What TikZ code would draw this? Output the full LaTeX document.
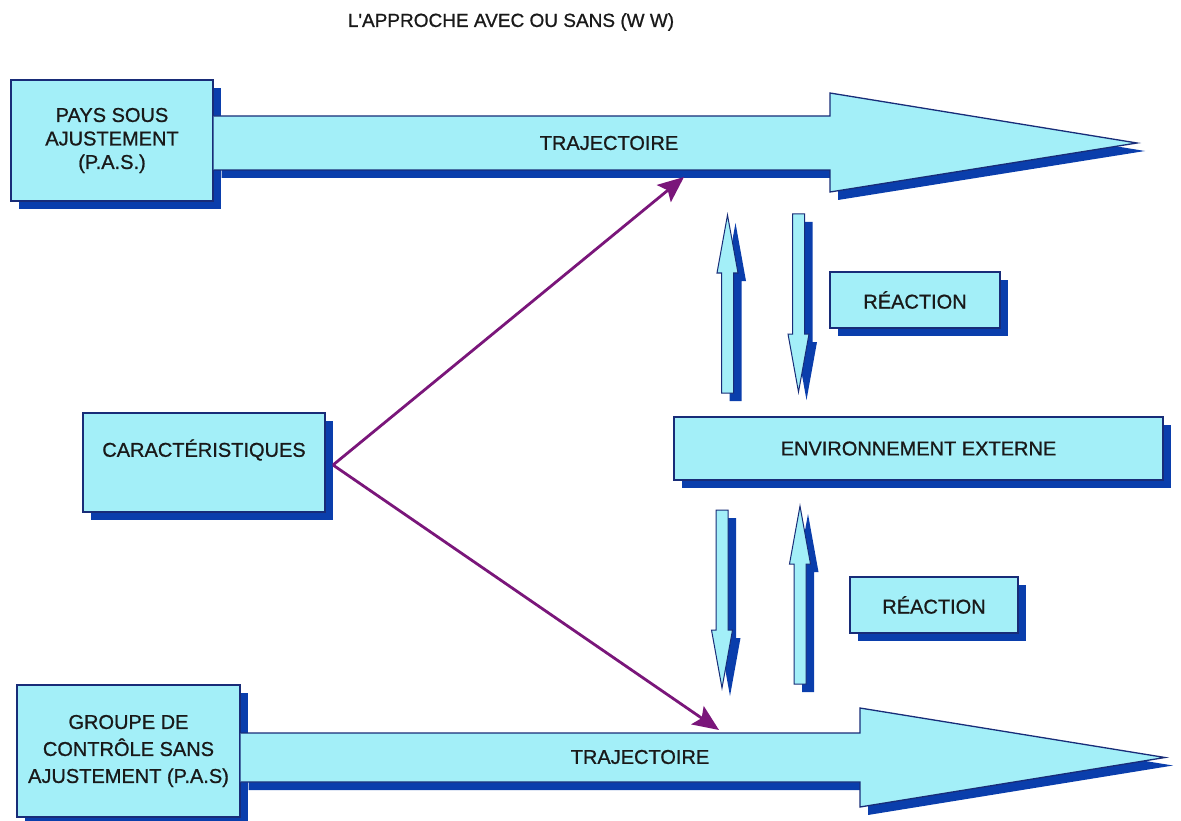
\documentclass[tikz,border=0pt]{standalone}
\usepackage{fontspec}
\setmainfont{Liberation Sans}
\newfontfamily\labelfont{Liberation Sans}[UprightFont=*, FakeBold=0.9]
\usetikzlibrary{shadows,arrows.meta}
\definecolor{panelfill}{RGB}{163,239,248}
\definecolor{panelline}{RGB}{24,44,120}
\definecolor{panelshadow}{RGB}{10,62,172}
\definecolor{linkpurple}{RGB}{122,22,122}

\begin{document}
\begin{tikzpicture}[x=1pt,y=-1pt,
  txt/.style={font=\labelfont\fontsize{20}{23.5}\selectfont, text=black!90, inner sep=0pt, align=center},
  panel/.style={draw=panelline, line width=1.3pt, fill=panelfill,
    drop shadow={shadow xshift=8pt, shadow yshift=-8pt, fill=panelshadow, opacity=1},
    txt},
  bodyfill/.style={fill=panelfill},
  bodyline/.style={draw=panelline, line width=1.3pt, line join=miter},
  bodyshadow/.style={fill=panelshadow},
  link/.style={draw=linkpurple, line width=2.8pt,
    -{Stealth[length=26pt,width=22pt,inset=5pt]}},
  pics/uparrow/.style={code={
    \fill[bodyshadow, shift={(8,8)}] (0,0) -- (10.5,58) -- (6,58) -- (6,178)
      -- (-6,178) -- (-6,58) -- (-10.5,58) -- cycle;
    \path[bodyfill, bodyline, line width=1pt] (0,0) -- (10.5,58) -- (6,58) -- (6,178)
      -- (-6,178) -- (-6,58) -- (-10.5,58) -- cycle;
  }},
  pics/downarrow/.style={code={
    \fill[bodyshadow, shift={(8,8)}] (0,0) -- (10.5,-58) -- (6,-58) -- (6,-178)
      -- (-6,-178) -- (-6,-58) -- (-10.5,-58) -- cycle;
    \path[bodyfill, bodyline, line width=1pt] (0,0) -- (10.5,-58) -- (6,-58) -- (6,-178)
      -- (-6,-178) -- (-6,-58) -- (-10.5,-58) -- cycle;
  }}
]
\useasboundingbox (0,0) rectangle (1181,821);

% title
\node[txt, font=\labelfont\fontsize{19}{22}\selectfont] (title) at (511,22) {L'APPROCHE AVEC OU SANS (W W)};

% left-hand boxes
\node[panel, minimum width=202pt, minimum height=121pt] (pas) at (112,140.5)
  {PAYS SOUS\\AJUSTEMENT\\(P.A.S.)};
\node[panel, minimum width=223pt, minimum height=132pt,
  font=\labelfont\fontsize{20}{27}\selectfont] (ctrl) at (128.5,751)
  {GROUPE DE\\CONTRÔLE SANS\\AJUSTEMENT (P.A.S)};
\node[panel, minimum width=242pt, minimum height=99pt] (car) at (204,462.5) {};
\node[txt] (cartext) at (204,450) {CARACTÉRISTIQUES};

% upper trajectory arrow
\fill[bodyshadow, shift={(8,8)}] (213.6,116) -- (830,116) -- (830,93) -- (1137,143)
  -- (830,192) -- (830,170) -- (213.6,170) -- cycle;
\fill[bodyfill] (213.6,116) -- (830,116) -- (830,93) -- (1137,143)
  -- (830,192) -- (830,170) -- (213.6,170) -- cycle;
\draw[bodyline] (213.6,116) -- (830,116) -- (830,93) -- (1137,143)
  -- (830,192) -- (830,170) -- (213.6,170);
\node[txt] (traj1) at (609,143) {TRAJECTOIRE};

% lower trajectory arrow
\fill[bodyshadow, shift={(8,8)}] (240.6,733) -- (860,733) -- (860,708) -- (1165,757.5)
  -- (860,807) -- (860,782) -- (240.6,782) -- cycle;
\fill[bodyfill] (240.6,733) -- (860,733) -- (860,708) -- (1165,757.5)
  -- (860,807) -- (860,782) -- (240.6,782) -- cycle;
\draw[bodyline] (240.6,733) -- (860,733) -- (860,708) -- (1165,757.5)
  -- (860,807) -- (860,782) -- (240.6,782);
\node[txt] (traj2) at (640,757) {TRAJECTOIRE};

% environment and reactions
\node[panel, minimum width=489pt, minimum height=63pt] (env) at (918.5,448.5)
  {ENVIRONNEMENT EXTERNE};
\node[panel, minimum width=170pt, minimum height=56pt] (rea1) at (915,300) {RÉACTION};
\node[panel, minimum width=168pt, minimum height=56pt] (rea2) at (934,605) {RÉACTION};

% feedback arrows
\pic at (727.5,215) {uparrow};
\pic at (798.5,392) {downarrow};
\pic at (722,688) {downarrow};
\pic at (800,506) {uparrow};

% links from the characteristics
\coordinate (fork) at (333,465);
\coordinate (hit1) at (684,177);
\coordinate (hit2) at (719,730);
\draw[link] (fork) -- (hit1);
\draw[link] (fork) -- (hit2);
\end{tikzpicture}
\end{document}
